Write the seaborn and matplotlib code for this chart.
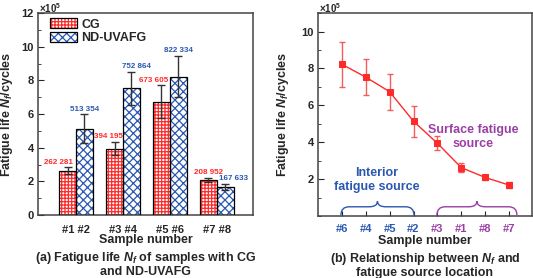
import numpy as np
import pandas as pd
import matplotlib.pyplot as plt
import seaborn as sns
from matplotlib.patches import Rectangle, PathPatch
from matplotlib.path import Path
from matplotlib.legend_handler import HandlerTuple
from matplotlib.ticker import MultipleLocator

# (a) fatigue life per sample pair, cycles
groups = ['#1 #2', '#3 #4', '#5 #6', '#7 #8']
cg_life = [262281, 394195, 673605, 208952]
nd_life = [513354, 752864, 822334, 167633]
cg_err = [0.21, 0.40, 0.97, 0.12]   # x10^5
nd_err = [0.84, 0.98, 1.22, 0.17]

# (b) samples ordered by fatigue life
order_labels = ['#6', '#4', '#5', '#2', '#3', '#1', '#8', '#7']
order_life = [822334, 752864, 673605, 513354, 394195, 262281, 208952, 167633]
order_err = [1.22, 0.98, 0.97, 0.84, 0.37, 0.26, 0.12, 0.15]
n_interior = 4   # first four -> interior source, rest surface

RED = '#ff2a2a'
BLUE = '#2a58b0'
PURPLE = '#9b3fa6'

sns.set_style('ticks')
plt.rcParams['font.family'] = ['Liberation Sans', 'DejaVu Sans']
plt.rcParams['font.weight'] = 'bold'
plt.rcParams['mathtext.fontset'] = 'custom'
plt.rcParams['mathtext.rm'] = 'Liberation Sans:bold'
plt.rcParams['mathtext.it'] = 'Liberation Sans:bold:italic'
plt.rcParams['mathtext.bf'] = 'Liberation Sans:bold'
plt.rcParams['hatch.linewidth'] = 0.9
plt.rcParams['axes.linewidth'] = 1.1
plt.rcParams['axes.edgecolor'] = '#444444'

fig = plt.figure(figsize=(5.33, 2.78), dpi=100)
ax1 = fig.add_axes([0.0713, 0.2266, 0.4034, 0.7266])
ax2 = fig.add_axes([0.5966, 0.223, 0.4015, 0.730])

FS_TICK = 8
FS_LAB = 9

# ---------- panel (a) ----------
df = pd.DataFrame({
    'group': groups * 2,
    'life': np.array(cg_life + nd_life) / 1e5,
    'type': ['CG'] * 4 + ['ND-UVAFG'] * 4,
})
sns.barplot(data=df, x='group', y='life', hue='type', ax=ax1, width=0.72,
            palette=['white', 'white'], errorbar=None, legend=False, linewidth=0)

styles = [(RED, '+++++')] * 4 + [(BLUE, 'xxxx')] * 4
bars = ax1.patches[:8]
errs = cg_err + nd_err
lives = cg_life + nd_life
label_dx = [-0.2, -0.13, -0.17, 0.0, 0.0, 0.1, 0.0, 0.18]
for i, p in enumerate(bars):
    col, h = styles[i]
    p.set_hatch(h)
    p.set_edgecolor(col)
    p.set_linewidth(0)
    x, w, ht = p.get_x(), p.get_width(), p.get_height()
    ax1.add_patch(Rectangle((x, 0), w, ht, fill=False, ec='k', lw=0.9, zorder=3))
    xc = x + w / 2
    ax1.errorbar(xc, ht, yerr=errs[i], fmt='none', ecolor='#333333',
                 elinewidth=1, capsize=3, capthick=1, zorder=4)
    txt = f"{lives[i]:,}".replace(',', ' ')
    ax1.text(xc + label_dx[i], ht + errs[i] + 0.3, txt, ha='center', va='center',
             color=col, fontsize=5.8, fontweight='bold')

ax1.set_xlim(-0.81, 3.77)
ax1.set_ylim(0, 12)
ax1.set_yticks(range(0, 13, 2))
ax1.yaxis.set_minor_locator(MultipleLocator(1))
ax1.tick_params(axis='y', which='both', direction='in', labelsize=FS_TICK, pad=3)
ax1.tick_params(axis='y', which='major', length=4)
ax1.tick_params(axis='y', which='minor', length=2.5)
ax1.tick_params(axis='x', length=0, labelsize=FS_TICK, pad=7)
for s in ax1.spines.values():
    s.set_visible(True)
ax1.set_xlabel('Sample number', fontsize=FS_LAB, fontweight='bold')
ax1.xaxis.set_label_coords(0.5, -0.095)
ax1.set_ylabel(r'Fatigue life $N_f$/cycles', fontsize=FS_LAB, fontweight='bold')
ax1.yaxis.set_label_coords(-0.105, 0.5)
ax1.text(0.005, 1.06, r'×10$^5$', transform=ax1.transAxes, fontsize=7,
         ha='left', va='top')
ax1.text(0.5, -0.228, r'(a) Fatigue life $N_f$ of samples with CG',
         transform=ax1.transAxes, ha='center', va='baseline', fontsize=FS_LAB)
ax1.text(0.5, -0.298, 'and ND-UVAFG', transform=ax1.transAxes,
         ha='center', va='baseline', fontsize=FS_LAB)

leg_handles = []
for col, h in [(RED, '+++++'), (BLUE, 'xxxx')]:
    hp = Rectangle((0, 0), 1, 1, fc='white', ec=col, hatch=h, lw=0)
    op = Rectangle((0, 0), 1, 1, fill=False, ec='k', lw=0.9)
    leg_handles.append((hp, op))
ax1.legend(leg_handles, ['CG', 'ND-UVAFG'], handler_map={tuple: HandlerTuple(ndivide=1)},
           loc='upper left', bbox_to_anchor=(0.055, 0.975), frameon=False,
           fontsize=FS_LAB, handlelength=2.2, handleheight=0.9, handletextpad=0.3,
           labelspacing=0.1, borderpad=0, borderaxespad=0)

# ---------- panel (b) ----------
pos = np.arange(1, len(order_labels) + 1)
vals = np.array(order_life) / 1e5
ax2.errorbar(pos, vals, yerr=order_err, fmt='none', ecolor='#f25c5c',
             elinewidth=1, capsize=2.5, capthick=1, zorder=2)
sns.lineplot(x=pos, y=vals, ax=ax2, color=RED, marker='s', markersize=4.5,
             markeredgecolor=RED, linewidth=1, zorder=3)

ax2.set_xlim(0, 8.96)
ax2.set_ylim(0, 11)
ax2.set_xticks(pos)
ax2.set_xticklabels(order_labels)
for i, t in enumerate(ax2.get_xticklabels()):
    t.set_color(BLUE if i < n_interior else PURPLE)
ax2.set_yticks(range(2, 11, 2))
ax2.yaxis.set_minor_locator(MultipleLocator(1))
ax2.tick_params(axis='both', which='both', direction='in', labelsize=FS_TICK)
ax2.tick_params(axis='y', which='major', length=4, pad=3)
ax2.tick_params(axis='y', which='minor', length=2.5)
ax2.tick_params(axis='x', length=3.5, pad=6)
for s in ax2.spines.values():
    s.set_visible(True)
ax2.set_xlabel('Sample number', fontsize=FS_LAB, fontweight='bold')
ax2.xaxis.set_label_coords(0.5, -0.095)
ax2.set_ylabel(r'Fatigue life $N_f$/cycles', fontsize=FS_LAB, fontweight='bold')
ax2.yaxis.set_label_coords(-0.125, 0.5)
ax2.text(0.005, 1.06, r'×10$^5$', transform=ax2.transAxes, fontsize=7,
         ha='left', va='top')
ax2.text(0.5, -0.228, r'(b) Relationship between $N_f$ and',
         transform=ax2.transAxes, ha='center', va='baseline', fontsize=FS_LAB)
ax2.text(0.5, -0.298, 'fatigue source location', transform=ax2.transAxes,
         ha='center', va='baseline', fontsize=FS_LAB)


def brace(ax, x0, x1, color, yb=0.05, ym=0.5, yt=0.8, r=0.35):
    xm = (x0 + x1) / 2
    verts = [(x0, yb), (x0, ym), (x0 + r, ym), (xm - r, ym),
             (xm, ym), (xm, yt), (xm, ym), (xm + r, ym),
             (x1 - r, ym), (x1, ym), (x1, yb)]
    codes = [Path.MOVETO, Path.CURVE3, Path.CURVE3, Path.LINETO,
             Path.CURVE3, Path.CURVE3, Path.CURVE3, Path.CURVE3,
             Path.LINETO, Path.CURVE3, Path.CURVE3]
    ax.add_patch(PathPatch(Path(verts, codes), fill=False, ec=color, lw=1))


brace(ax2, pos[0] - 0.04, pos[n_interior - 1] + 0.02, BLUE)
brace(ax2, pos[n_interior] - 0.02, pos[-1] + 0.33, PURPLE)
ax2.text(2.46, 1.95, 'Interior\nfatigue source', color=BLUE, fontsize=FS_LAB,
         ha='center', va='center', linespacing=1.2)
ax2.text(6.5, 4.3, 'Surface fatigue\nsource', color=PURPLE, fontsize=FS_LAB,
         ha='center', va='center', linespacing=1.2)

fig.savefig('out.png', dpi=100)
